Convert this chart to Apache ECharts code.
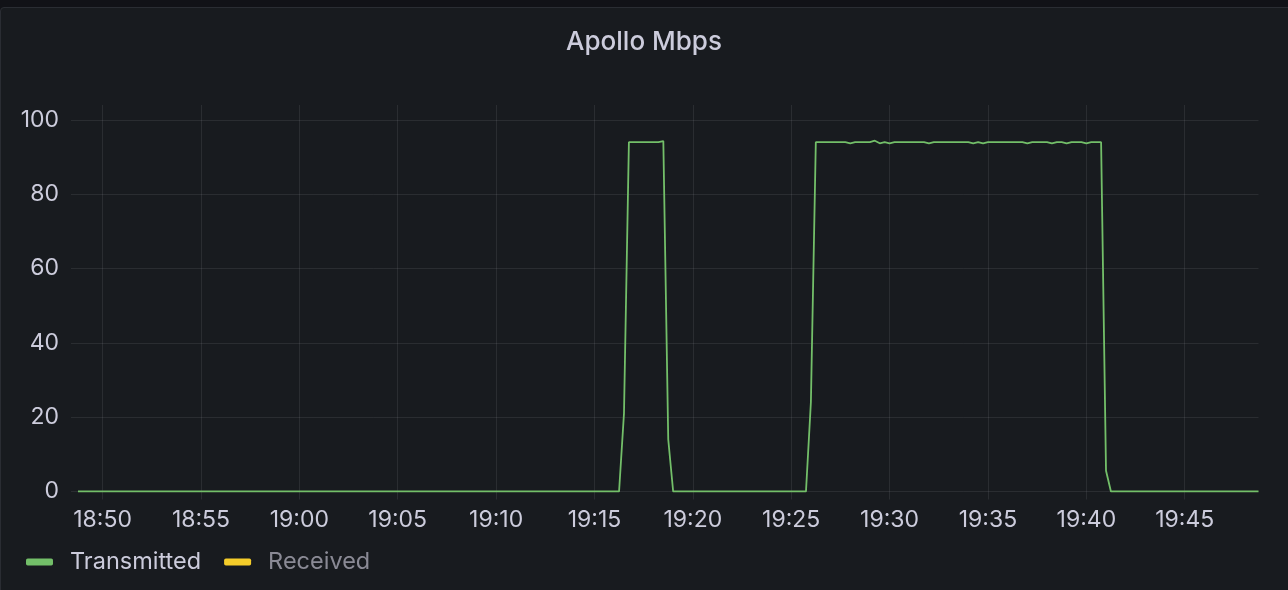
<!DOCTYPE html>
<html>
<head>
<meta charset="utf-8">
<script src="https://cdn.jsdelivr.net/npm/echarts@6/dist/echarts.min.js"></script>
<style>
  html, body { margin: 0; padding: 0; background: #111217; width: 1288px; height: 590px; overflow: hidden; }
  #panel { position: absolute; left: 0; top: 7px; width: 1300px; height: 600px; background: #181b1f; border: 1px solid #2a2d33; border-radius: 4px; box-sizing: border-box; }
  #chart { position: absolute; left: 0; top: 0; width: 1288px; height: 590px; }
</style>
</head>
<body>
<div id="panel"></div>
<div id="chart"></div>
<script>
// ---- data ----
const chartTitle = 'Apollo Mbps';
const seriesNames = ['Transmitted', 'Received'];
const rangeStart = '18:48:45';
const rangeEnd = '19:48:45';
const xTickLabels = ['18:50','18:55','19:00','19:05','19:10','19:15','19:20','19:25','19:30','19:35','19:40','19:45'];
const yTickLabels = [0, 20, 40, 60, 80, 100];
const transmittedTimes = [
  '18:48:45','19:16:15','19:16:30','19:16:45','19:18:15','19:18:30','19:18:45','19:19:00',
  '19:25:45','19:26:00','19:26:15','19:27:45','19:28:00','19:28:15','19:29:00','19:29:15',
  '19:29:30','19:29:45','19:30:00','19:30:15','19:31:45','19:32:00','19:32:15','19:34:00',
  '19:34:15','19:34:30','19:34:45','19:35:00','19:36:45','19:37:00','19:37:15','19:38:00',
  '19:38:15','19:38:30','19:38:45','19:39:00','19:39:15','19:39:45','19:40:00','19:40:15',
  '19:40:45','19:41:00','19:41:15','19:48:45'
];
const transmittedValues = [
  0, 0, 21, 94, 94, 94.3, 14, 0,
  0, 24, 94, 94, 93.7, 94, 94, 94.4,
  93.7, 94, 93.7, 94, 94, 93.7, 94, 94,
  93.7, 94, 93.7, 94, 94, 93.7, 94, 94,
  93.7, 94, 94, 93.7, 94, 94, 93.7, 94,
  94, 5.6, 0, 0
];
const receivedTimes = [];   // series hidden in the reference
const receivedValues = [];
const colors = ['#73bf69', '#f5cd2a'];

// ---- helpers ----
function ts(hms) {
  const [h, m, s] = (hms.length === 5 ? hms + ':00' : hms).split(':').map(Number);
  return new Date(2024, 0, 1, h, m, s).getTime();
}
function pad(n) { return (n < 10 ? '0' : '') + n; }

const textColor = '#ccccdc';
const gridColor = 'rgba(204,204,220,0.10)';
const font = 'Inter, Roboto, "Noto Sans", sans-serif';
const xTicks = xTickLabels.map(ts);

const chart = echarts.init(document.getElementById('chart'), null, { renderer: 'canvas' });
chart.setOption({
  backgroundColor: 'transparent',
  animation: false,
  title: {
    text: chartTitle,
    left: 'center',
    top: 24,
    textStyle: { color: textColor, fontSize: 26, fontWeight: 500, fontFamily: font }
  },
  legend: {
    left: 26,
    top: 550,
    padding: 0,
    itemWidth: 27,
    itemHeight: 7,
    itemGap: 23,
    icon: 'roundRect',
    data: [
      { name: seriesNames[0], textStyle: { color: textColor } },
      { name: seriesNames[1], textStyle: { color: '#8a8a95' } }
    ],
    textStyle: { fontSize: 23.5, fontFamily: font, padding: [0, 0, 0, 12] }
  },
  grid: { left: 78, right: 29.5, top: 105, bottom: 98.5, containLabel: false },
  xAxis: {
    type: 'value',
    min: ts(rangeStart),
    max: ts(rangeEnd),
    axisLine: { show: false },
    axisTick: { show: true, length: 8, lineStyle: { color: gridColor }, customValues: xTicks },
    splitLine: { show: true, lineStyle: { color: gridColor, width: 1 } },
    axisLabel: {
      customValues: xTicks,
      color: textColor,
      fontSize: 23,
      fontFamily: font,
      margin: 17,
      formatter: function (v) { const d = new Date(v); return pad(d.getHours()) + ':' + pad(d.getMinutes()); }
    }
  },
  yAxis: {
    type: 'value',
    min: 0,
    max: 104,
    axisLine: { show: false },
    axisTick: { show: true, length: 7, lineStyle: { color: gridColor }, customValues: yTickLabels },
    splitLine: { show: true, lineStyle: { color: gridColor, width: 1 } },
    axisLabel: {
      customValues: yTickLabels,
      color: textColor,
      fontSize: 23,
      fontFamily: font,
      margin: 19
    }
  },
  series: [
    {
      name: seriesNames[0],
      type: 'line',
      data: transmittedTimes.map((t, i) => [ts(t), transmittedValues[i]]),
      showSymbol: false,
      symbol: 'none',
      color: colors[0],
      lineStyle: { color: colors[0], width: 1.8 },
      z: 3
    },
    {
      name: seriesNames[1],
      type: 'line',
      data: receivedTimes.map((t, i) => [ts(t), receivedValues[i]]),
      showSymbol: false,
      symbol: 'none',
      color: colors[1],
      lineStyle: { color: colors[1], width: 1.8 },
      z: 2
    }
  ]
});
</script>
</body>
</html>
